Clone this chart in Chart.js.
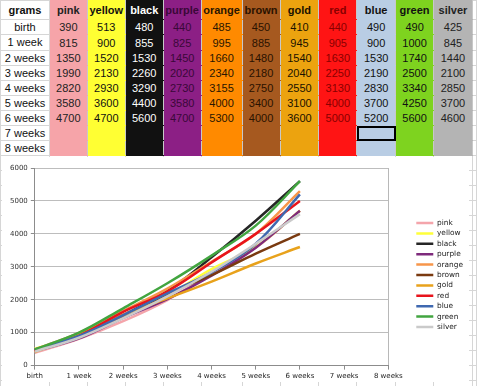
<!DOCTYPE html>
<html>
<head>
<meta charset="utf-8">
<script src="https://cdn.jsdelivr.net/npm/chart.js@4"></script>
<style>
  html, body { margin: 0; padding: 0; background: #fff; }
  body { width: 477px; height: 386px; overflow: hidden; position: relative; font-family: "Liberation Sans", Arial, sans-serif; }
  table { border-collapse: collapse; table-layout: fixed; position: absolute; left: 0; top: 0; }
  td { padding: 0; text-align: center; font-size: 11px; color: #111; white-space: nowrap; overflow: hidden; border: 1px solid #d6d6d6; height: 14px; line-height: 14px; }
  td.h { font-weight: bold; }
  #chartBox { position: absolute; left: 2px; top: 157px; width: 467px; height: 225px; background: #fff; }
  #growth { position: absolute; left: 0; top: 0; }
</style>
</head>
<body>
<table id="sheet"></table>
<div id="chartBox"><canvas id="growth" width="473" height="225"></canvas></div>
<script>
// rows of the sheet / x axis
const weeks = ['birth', '1 week', '2 weeks', '3 weeks', '4 weeks', '5 weeks', '6 weeks', '7 weeks', '8 weeks'];
const yTicks = [0, 1000, 2000, 3000, 4000, 5000, 6000];

// grams per puppy
const pink   = [390, 815, 1350, 1990, 2820, 3580, 4700];
const yellow = [513, 900, 1520, 2130, 2930, 3600, 4700];
const black  = [480, 855, 1530, 2260, 3290, 4400, 5600];
const purple = [440, 825, 1450, 2020, 2730, 3580, 4700];
const orange = [485, 995, 1660, 2340, 3155, 4000, 5300];
const brown  = [450, 885, 1480, 2180, 2750, 3400, 4000];
const gold   = [410, 945, 1540, 2040, 2550, 3100, 3600];
const red    = [440, 905, 1630, 2250, 3130, 4000, 5000];
const blue   = [490, 900, 1530, 2190, 2830, 3700, 5200];
const green  = [490, 1000, 1740, 2500, 3340, 4250, 5600];
const silver = [425, 845, 1440, 2100, 2850, 3700, 4600];

const puppies = [
  { name: 'pink',   values: pink,   cell: '#f6a4a9', text: '#222',    line: '#f4a5ab' },
  { name: 'yellow', values: yellow, cell: '#ffff33', text: '#111',    line: '#ffff3a' },
  { name: 'black',  values: black,  cell: '#111111', text: '#ffffff', line: '#262626' },
  { name: 'purple', values: purple, cell: '#8c1f85', text: '#3a0838', line: '#7e2a7c' },
  { name: 'orange', values: orange, cell: '#ff8a00', text: '#2a1600', line: '#f7964a' },
  { name: 'brown',  values: brown,  cell: '#a6591f', text: '#2a1200', line: '#7a3a10' },
  { name: 'gold',   values: gold,   cell: '#eca30f', text: '#1a1200', line: '#e8a21c' },
  { name: 'red',    values: red,    cell: '#ff1414', text: '#8a0000', line: '#e8141c' },
  { name: 'blue',   values: blue,   cell: '#b9cde4', text: '#111',    line: '#3f68b0' },
  { name: 'green',  values: green,  cell: '#7ed31f', text: '#111',    line: '#42a540' },
  { name: 'silver', values: silver, cell: '#b4b4b4', text: '#222',    line: '#cacaca' }
];

// --- spreadsheet part ---
const colWidths = [49, 38, 38, 38, 38, 41, 38, 39, 38, 39, 38, 39, 4];
const sheet = document.getElementById('sheet');
const colgroup = document.createElement('colgroup');
colWidths.forEach(w => {
  const col = document.createElement('col');
  col.style.width = w + 'px';
  colgroup.appendChild(col);
});
sheet.appendChild(colgroup);

const rowHeights = [19, 15, 16, 15, 15, 15, 15, 15, 15, 15];
for (let r = 0; r < rowHeights.length; r++) {
  const tr = document.createElement('tr');
  const label = document.createElement('td');
  label.textContent = r === 0 ? 'grams' : weeks[r - 1];
  if (r === 0) label.className = 'h';
  label.style.height = (rowHeights[r] - 1) + 'px';
  label.style.lineHeight = (rowHeights[r] - 1) + 'px';
  tr.appendChild(label);
  puppies.forEach(p => {
    const td = document.createElement('td');
    if (r === 0) td.className = 'h';
    td.style.background = p.cell;
    td.style.color = p.text;
    td.style.borderTopColor = p.cell;
    td.style.borderBottomColor = p.cell;
    td.style.borderLeftColor = '#c8c8c8';
    td.style.borderRightColor = '#c8c8c8';
    if (r === 0) td.textContent = p.name;
    else if (p.values[r - 1] !== undefined) td.textContent = p.values[r - 1];
    if (p.name === 'blue' && r === 8) {
      td.style.outline = '2px solid #000';
      td.style.outlineOffset = '-2px';
    }
    tr.appendChild(td);
  });
  const tail = document.createElement('td');
  tr.appendChild(tail);
  sheet.appendChild(tr);
}
// empty grid rows under the chart
for (let r = 0; r < 16; r++) {
  const tr = document.createElement('tr');
  colWidths.forEach(() => tr.appendChild(document.createElement('td')));
  sheet.appendChild(tr);
}

// --- chart ---
const tickFont = { family: 'DejaVu Sans', size: 7 };

const ctx = document.getElementById('growth').getContext('2d');
new Chart(ctx, {
  type: 'line',
  data: {
    labels: weeks,
    datasets: puppies.map((p, i) => ({
      label: p.name,
      data: p.values,
      borderColor: p.line,
      backgroundColor: p.line,
      borderWidth: 2.5,
      pointRadius: 0,
      tension: 0.35,
      fill: false,
      order: puppies.length - i,
    })),
  },
  options: {
    responsive: false,
    animation: false,
    devicePixelRatio: 1,
    layout: {
      padding: { left: 5, top: 11, right: 2, bottom: 0 },
    },
    plugins: {
      tooltip: { enabled: false },
      legend: {
        position: 'right',
        labels: {
          usePointStyle: true,
          pointStyle: 'line',
          pointStyleWidth: 17,
          padding: 3,
          color: '#222',
          font: { family: 'DejaVu Sans', size: 7.4 },
          sort: (a, b) => a.datasetIndex - b.datasetIndex,
        },
      },
    },
    scales: {
      x: {
        offset: false,
        grid: {
          color: c => (c.index === weeks.length - 1 ? '#b8b8b8' : 'rgba(0,0,0,0)'),
          tickColor: '#8c8c8c',
          tickLength: 4,
        },
        border: { color: '#8c8c8c' },
        ticks: {
          font: tickFont,
          color: '#222',
          padding: 2,
          maxRotation: 0,
          autoSkip: false,
        },
      },
      y: {
        min: yTicks[0],
        max: yTicks[yTicks.length - 1],
        afterBuildTicks: s => { s.ticks = yTicks.map(v => ({ value: v })); },
        grid: {
          color: '#bdbdbd',
          tickColor: '#8c8c8c',
          tickLength: 4,
        },
        border: { color: '#8c8c8c' },
        ticks: {
          font: tickFont,
          color: '#333',
          padding: 3,
          callback: v => String(v),
        },
      },
      gap: {
        position: 'right',
        display: true,
        grid: { display: false },
        border: { display: false },
        ticks: { display: false },
        afterFit: s => { s.width = 25; },
      },
    },
  },
});
</script>
</body>
</html>
